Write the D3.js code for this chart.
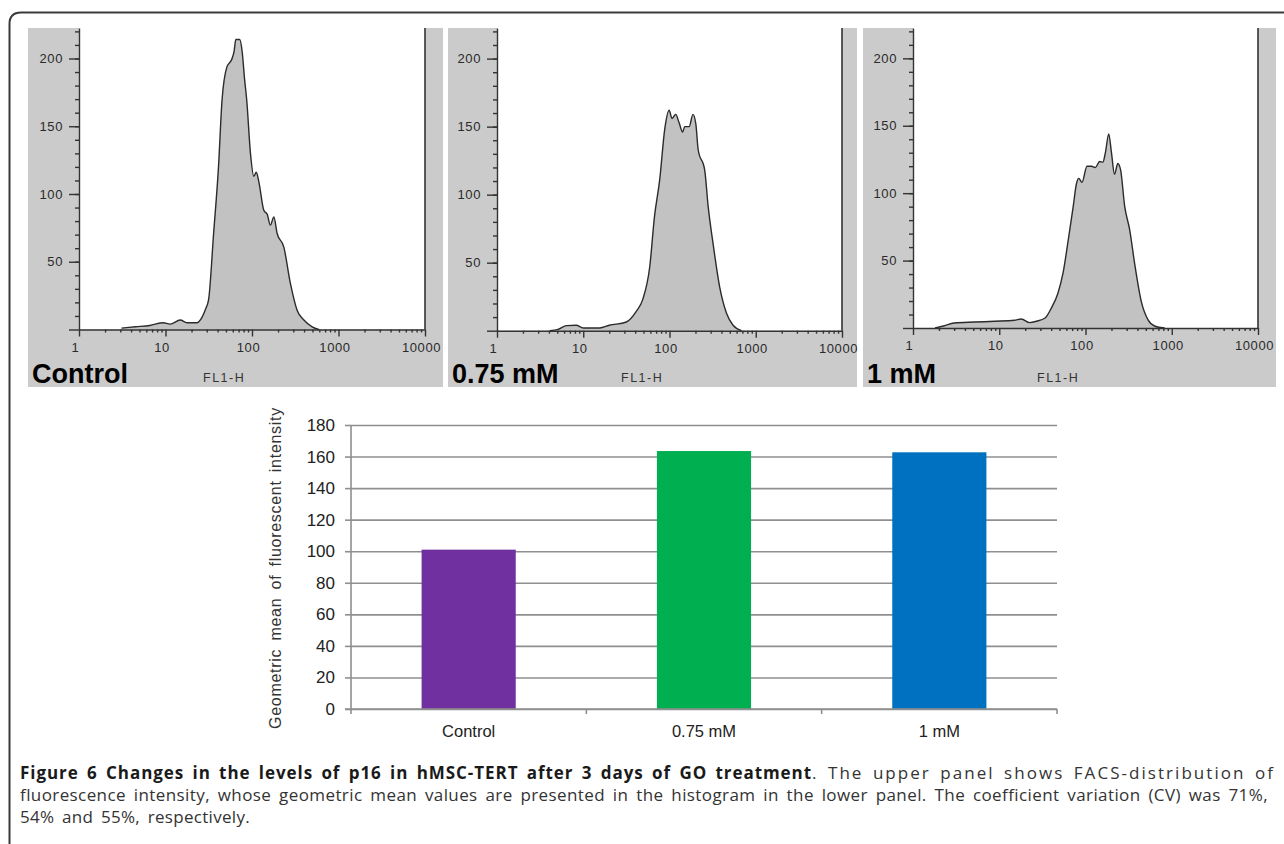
<!DOCTYPE html>
<html>
<head>
<meta charset="utf-8">
<script src="https://cdn.jsdelivr.net/npm/d3@7"></script>
<style>
  body { margin: 0; background: #fff; }
  svg { display: block; }
</style>
</head>
<body>
<div id="chart"></div>
<script>
// FACS histograms: FL1-H value and event count
const controlFL = [3.1, 4.5, 6.6, 9.4, 11.3, 14.8, 17.7, 23, 26.4, 29, 31.5, 36, 41, 45, 51.4, 58, 62, 65, 72, 77, 82, 87, 96, 105, 112, 120, 137, 150, 163, 179, 195, 233, 278, 333, 398, 496, 594];
const controlCount = [1, 2, 3, 5, 4, 7, 5, 5, 9, 15, 22, 71, 120, 169, 194, 199, 205, 214, 214, 205, 185, 169, 130, 113, 116, 109, 88, 85, 77, 83, 71, 61, 34, 14, 7, 2, 0];

const mid075FL = [4.1, 5.1, 6.4, 8.3, 10, 15.5, 20, 31.6, 41, 49, 59, 67, 77, 88, 99, 107, 118, 129, 142, 150, 169, 187, 202, 215, 256, 281, 320, 382, 457, 546, 684];
const mid075Count = [0, 1, 3.7, 4, 2, 2, 4, 6.4, 14, 23, 47, 84, 111, 148, 162, 156, 159, 153, 146, 150, 150, 159, 152, 133, 118, 91, 64, 32, 13, 4, 0];

const high1FL = [1.8, 2.3, 3.0, 5.2, 8.9, 15, 18, 22.6, 27, 34, 40, 48, 55, 63, 72, 78.5, 83.6, 91, 104, 117, 130, 146, 159, 170, 186, 200, 217, 237, 255, 285, 325, 371, 444, 531, 631, 829];
const high1Count = [0, 1.7, 3.7, 4.4, 5, 5.7, 6.7, 4, 5, 7.4, 14.6, 26, 41, 65, 90, 107, 111, 108, 120, 120, 119, 123.5, 123, 130, 144, 130, 114, 122, 117.5, 90, 73, 48, 19.5, 6, 1.5, 0];

const panelNames = ['Control', '0.75 mM', '1 mM'];
const histFL = [controlFL, mid075FL, high1FL];
const histCount = [controlCount, mid075Count, high1Count];

const xMajorTicks = [1, 10, 100, 1000, 10000];
const yMajorTicks = [0, 50, 100, 150, 200];
const yMinorTicks = d3.range(10, 230, 10);

// bar chart
const categories = ['Control', '0.75 mM', '1 mM'];
const geoMeans = [101, 163.5, 162.7];
const barColors = ['#7030a0', '#00b050', '#0070c0'];
const barTicks = [0, 20, 40, 60, 80, 100, 120, 140, 160, 180];

const captionBold = 'Figure 6 Changes in the levels of p16 in hMSC-TERT after 3 days of GO treatment';
const captionLines = [
  '. The upper panel shows FACS-distribution of',
  'fluorescence intensity, whose geometric mean values are presented in the histogram in the lower panel. The coefficient variation (CV) was 71%,',
  '54% and 55%, respectively.'
];

const W = 1284, H = 844;
const svg = d3.select('#chart').append('svg').attr('width', W).attr('height', H);

// spread a piece of text to a width: fixed extra word gap, rest as tracking
function fit(el, width, wordGap) {
  let nat = el.node().getComputedTextLength();
  let s = el.text();
  let spaces = (s.match(/ /g) || []).length;
  let ls = (width - nat - wordGap * spaces) / s.length;
  el.attr('word-spacing', wordGap).attr('letter-spacing', ls);
}

// outer frame, open on the right and bottom
svg.append('path')
  .attr('d', 'M9.5,' + (H + 10) + ' L9.5,24 Q9.5,12.5 21,12.5 L' + (W + 10) + ',12.5')
  .attr('fill', 'none')
  .attr('stroke', '#3a3a3a')
  .attr('stroke-width', 2);

// panel layout
const panels = [
  {x: 28, w: 415, left: 79, right: 425, base: 329.5},
  {x: 448, w: 409, left: 497, right: 842, base: 330.7},
  {x: 863, w: 413, left: 913, right: 1258, base: 328}
];
const panelTop = 28, panelBottom = 387;

panels.forEach(function(p, i) {
  let g = svg.append('g');
  g.append('rect')
    .attr('x', p.x).attr('y', panelTop)
    .attr('width', p.w).attr('height', panelBottom - panelTop)
    .attr('fill', '#cbcbcb');

  let x = d3.scaleLog().domain([1, 10000]).range([p.left, p.right]);
  let y = d3.scaleLinear().domain([0, 222.5]).range([p.base, panelTop]);

  g.append('rect')
    .attr('x', p.left).attr('y', panelTop)
    .attr('width', p.right - p.left).attr('height', p.base - panelTop)
    .attr('fill', '#fff');

  let pts = histFL[i].map(function(v, j) { return {v: v, c: histCount[i][j]}; });
  let area = d3.area()
    .x(function(d) { return x(d.v); })
    .y0(y(0))
    .y1(function(d) { return y(d.c); })
    .curve(d3.curveMonotoneX);
  let line = d3.line()
    .x(function(d) { return x(d.v); })
    .y(function(d) { return y(d.c); })
    .curve(d3.curveMonotoneX);

  g.append('path').datum(pts).attr('fill', '#c2c2c2').attr('d', area);
  g.append('path').datum(pts)
    .attr('fill', 'none')
    .attr('stroke', '#2b2b2b')
    .attr('stroke-width', 1.4)
    .attr('stroke-linejoin', 'round')
    .attr('d', line);

  // right border of plot
  g.append('line')
    .attr('x1', p.right).attr('x2', p.right)
    .attr('y1', panelTop).attr('y2', p.base)
    .attr('stroke', '#333').attr('stroke-width', 1.6);

  // x axis: minor then major
  let minor = [];
  [1, 10, 100, 1000].forEach(function(d) {
    for (let k = 2; k <= 9; k++) minor.push(d * k);
  });
  g.append('g')
    .attr('transform', 'translate(0,' + p.base + ')')
    .call(d3.axisBottom(x).tickValues(minor).tickSize(3).tickFormat(''))
    .call(function(a) { a.select('.domain').remove(); });
  let xa = g.append('g')
    .attr('transform', 'translate(0,' + p.base + ')')
    .call(d3.axisBottom(x).tickValues(xMajorTicks).tickSize(7).tickSizeOuter(0).tickPadding(6).tickFormat(d3.format('d')));
  xa.selectAll('text').attr('dx', -4);

  // y axis: minor then major
  g.append('g')
    .attr('transform', 'translate(' + p.left + ',0)')
    .call(d3.axisLeft(y).tickValues(yMinorTicks).tickSize(4).tickFormat(''))
    .call(function(a) { a.select('.domain').remove(); });
  g.append('g')
    .attr('transform', 'translate(' + p.left + ',0)')
    .call(d3.axisLeft(y).tickValues(yMajorTicks).tickSize(10).tickSizeOuter(0).tickPadding(6)
      .tickFormat(function(d) { return d === 0 ? '' : d; }));

  g.selectAll('.domain, .tick line').attr('stroke', '#333').attr('stroke-width', 1.4);
  g.selectAll('.tick text')
    .attr('fill', '#2a2a2a')
    .style('font-family', 'Liberation Sans, Arial, sans-serif')
    .style('font-size', '13px')
    .style('letter-spacing', '0.6px');

  g.append('text')
    .attr('x', p.x + 4).attr('y', 383)
    .style('font-family', 'Liberation Sans, Arial, sans-serif')
    .style('font-weight', 'bold')
    .style('font-size', '27px')
    .attr('fill', '#000')
    .text(panelNames[i]);

  g.append('text')
    .attr('x', p.left + 124).attr('y', 382)
    .style('font-family', 'Liberation Sans, Arial, sans-serif')
    .style('font-size', '12.5px')
    .style('letter-spacing', '1.5px')
    .attr('fill', '#333')
    .text('FL1-H');
});

// lower bar chart
const bx = d3.scaleBand().domain(categories).range([351, 1057]).paddingInner(0.6).paddingOuter(0.3);
const by = d3.scaleLinear().domain([0, 180]).range([709, 425]);
const bg = svg.append('g');

bg.append('g')
  .attr('transform', 'translate(351,0)')
  .call(d3.axisLeft(by).tickValues(barTicks).tickSize(6).tickPadding(10))
  .call(function(a) {
    a.select('.domain').remove();
    a.selectAll('.tick line').clone()
      .attr('x2', 1057 - 351);
  });
bg.selectAll('.tick line').attr('stroke', '#8f8f8f').attr('stroke-width', 1.6);
bg.selectAll('.tick text')
  .attr('fill', '#222')
  .style('font-family', 'Liberation Sans, Arial, sans-serif')
  .style('font-size', '17px');

bg.selectAll('rect.bar')
  .data(categories)
  .join('rect')
  .attr('class', 'bar')
  .attr('x', function(d) { return bx(d); })
  .attr('width', bx.bandwidth())
  .attr('y', function(d, i) { return by(geoMeans[i]); })
  .attr('height', function(d, i) { return by(0) - by(geoMeans[i]); })
  .attr('fill', function(d, i) { return barColors[i]; });

// vertical axis line
bg.append('line')
  .attr('x1', 351).attr('x2', 351).attr('y1', 425).attr('y2', 709)
  .attr('stroke', '#8f8f8f').attr('stroke-width', 1.6);

// category axis with ticks at band edges
const edges = categories.map(function(d) { return bx(d) - bx.step() * 0.3; }).concat([1057]);
const cax = bg.append('g').attr('transform', 'translate(0,709)');
cax.append('line').attr('x1', 345).attr('x2', 1057).attr('stroke', '#8f8f8f').attr('stroke-width', 1.6);
cax.selectAll('line.edge')
  .data(edges)
  .join('line')
  .attr('class', 'edge')
  .attr('x1', function(d) { return d; }).attr('x2', function(d) { return d; })
  .attr('y1', 0).attr('y2', 5)
  .attr('stroke', '#8f8f8f').attr('stroke-width', 1.6);
cax.selectAll('text')
  .data(categories)
  .join('text')
  .attr('x', function(d) { return bx(d) + bx.bandwidth() / 2; })
  .attr('y', 28)
  .attr('text-anchor', 'middle')
  .attr('fill', '#222')
  .style('font-family', 'Liberation Sans, Arial, sans-serif')
  .style('font-size', '16.5px')
  .text(function(d) { return d; });

const ytitle = bg.append('text')
  .attr('transform', 'translate(281,568) rotate(-90)')
  .attr('x', -161)
  .attr('fill', '#333')
  .style('font-family', 'Liberation Sans, Arial, sans-serif')
  .style('font-size', '16px')
  .text('Geometric mean of fluorescent intensity');
fit(ytitle, 322, 3);

// caption
const cap = svg.append('g')
  .style('font-family', 'Open Sans, sans-serif')
  .style('font-size', '17px')
  .attr('fill', '#333');
const l1 = cap.append('text').attr('x', 20).attr('y', 779);
const l1b = l1.append('tspan').style('font-weight', 'bold').attr('fill', '#1a1a1a').text(captionBold);
const l1r = l1.append('tspan').text(captionLines[0]);
fit(l1b, 792, 3);
fit(l1r, 463, 3);
const l2 = cap.append('text').attr('x', 20).attr('y', 801).text(captionLines[1]);
fit(l2, 1248, 3);
const l3 = cap.append('text').attr('x', 20).attr('y', 823).text(captionLines[2]);
fit(l3, 230, 3);
</script>
</body>
</html>
